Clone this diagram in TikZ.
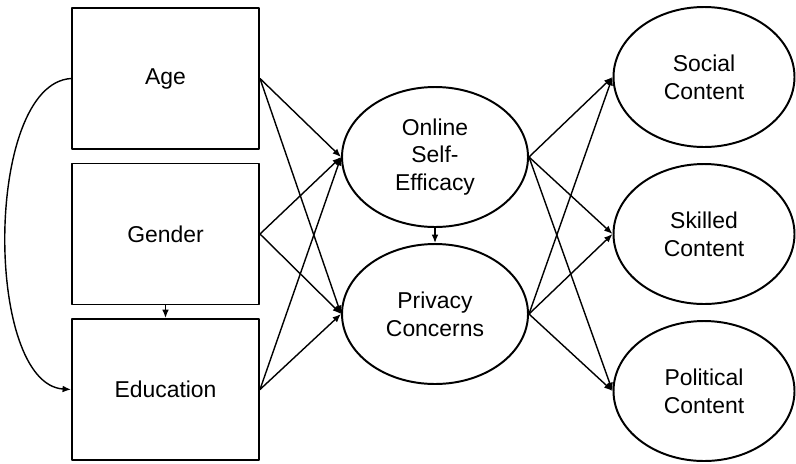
\documentclass[tikz,border=0pt]{standalone}
\usepackage{fontspec}
\setmainfont{Liberation Sans}
\usetikzlibrary{arrows.meta,shapes.geometric}

\begin{document}
\begin{tikzpicture}[
  x=0.025cm,y=-0.025cm,
  line cap=round,line join=round,
  font=\fontsize{16.3}{19.8}\selectfont,
  varbox/.style={draw=black,line width=1.4pt,minimum width=187*0.025cm,
    minimum height=141*0.025cm,inner sep=0pt},
  factor/.style={draw=black,ellipse,line width=1.4pt,minimum width=186*0.025cm,
    minimum height=140*0.025cm,inner sep=0pt,align=center},
  link/.style={-{Latex[length=6pt,width=4.8pt]},line width=1pt}
  ]
  % ---- frame
  \useasboundingbox (0,0) rectangle (796,463);

  % observed variables
  \node[varbox] (age)    at (165.5, 78.5) {Age};
  \node[varbox] (gender) at (165.5,234)   {Gender};
  \node[varbox] (edu)    at (165.5,389.5) {Education};

  % mediators
  \node[factor] (ose) at (435,157) {Online\\Self-\\Efficacy};
  \node[factor] (pc)  at (435,314) {Privacy\\Concerns};

  % outcomes
  \node[factor,minimum width=181*0.025cm] (soc) at (704,77)  {Social\\Content};
  \node[factor,minimum width=181*0.025cm] (skl) at (704,234) {Skilled\\Content};
  \node[factor,minimum width=181*0.025cm] (pol) at (704,391) {Political\\Content};

  % paths
  \foreach \s in {age,gender,edu}{
    \foreach \t in {ose,pc}{
      \draw[link] (\s.east) -- (\t.west);
    }
  }
  \foreach \s in {ose,pc}{
    \foreach \t in {soc,skl,pol}{
      \draw[link] (\s.east) -- (\t.west);
    }
  }
  \draw[link] (gender.south) -- (edu.north);
  \draw[link] (ose.south) -- (pc.north);
  \draw[link] (age.west) .. controls (-16,84) and (-16,384) .. (edu.west);
\end{tikzpicture}
\end{document}
